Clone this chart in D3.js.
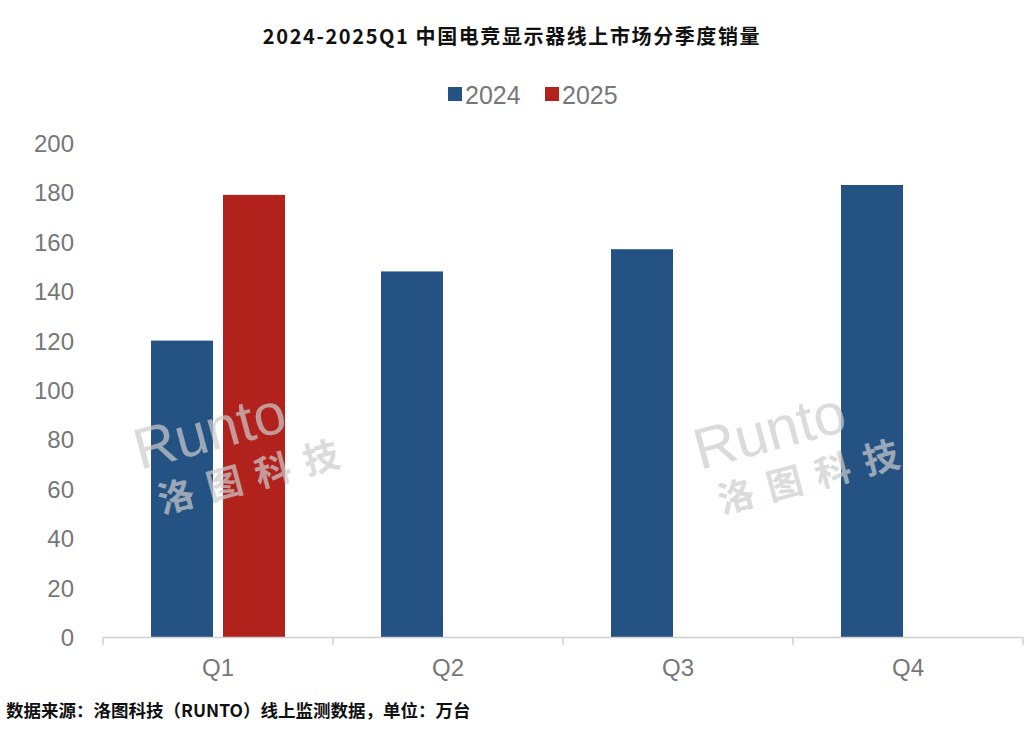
<!DOCTYPE html>
<html><head><meta charset="utf-8">
<script src="https://cdn.jsdelivr.net/npm/d3@7"></script>
<style>body{margin:0;background:#fff;}svg{font-family:"Noto Sans CJK SC","Noto Sans",sans-serif;}</style>
</head><body><svg id="c" width="1032" height="730"></svg>
<script>
const categories=["Q1","Q2","Q3","Q4"];
const seriesNames=["2024","2025"];
const values2024=[120,148,157,183];
const values2025=[179,null,null,null];
const yTicks=[0,20,40,60,80,100,120,140,160,180,200];
const colors=["#245282","#b2221d"];
const title="2024-2025Q1 中国电竞显示器线上市场分季度销量";
const source="数据来源：洛图科技（RUNTO）线上监测数据，单位：万台";

const svg=d3.select("#c");
const x=d3.scaleBand().domain(categories).range([103,1023]);
const y=d3.scaleLinear().domain([0,200]).range([637,143]);
const series=[values2024,values2025];

svg.append("text").attr("x",512).attr("y",44).attr("text-anchor","middle").attr("font-size",20).attr("letter-spacing",1.6).attr("font-weight","bold").attr("fill","#111").text(title);

seriesNames.forEach((n,i)=>{
  const lx=448+i*97;
  svg.append("rect").attr("x",lx).attr("y",87).attr("width",14).attr("height",14).attr("fill",colors[i]);
  svg.append("text").attr("x",lx+17).attr("y",104).attr("font-size",25).attr("fill","#777").attr("font-family","Liberation Sans, Arial, sans-serif").text(n);
});

yTicks.forEach(t=>{
  svg.append("text").attr("x",74).attr("y",y(t)+9).attr("text-anchor","end").attr("font-size",24).attr("fill","#777").attr("font-family","Liberation Sans, Arial, sans-serif").text(t);
});

series.forEach((vals,si)=>{
  vals.forEach((v,ci)=>{
    if(v==null) return;
    const cx=x(categories[ci])+x.bandwidth()/2;
    const bx= si===0? cx-67 : cx+5;
    svg.append("rect").attr("x",bx).attr("y",y(v)).attr("width",62).attr("height",y(0)-y(v)).attr("fill",colors[si]);
  });
});

svg.append("line").attr("x1",103).attr("x2",1023).attr("y1",637.5).attr("y2",637.5).attr("stroke","#d0d0d0").attr("stroke-width",1.5);
categories.forEach((c,i)=>{
  const bx=x(c);
  svg.append("line").attr("x1",bx).attr("x2",bx).attr("y1",637).attr("y2",645).attr("stroke","#d0d0d0").attr("stroke-width",1.5);
  svg.append("text").attr("x",bx+x.bandwidth()/2).attr("y",676).attr("text-anchor","middle").attr("font-size",24).attr("fill","#777").attr("font-family","Liberation Sans, Arial, sans-serif").text(c);
});
svg.append("line").attr("x1",1023).attr("x2",1023).attr("y1",637).attr("y2",645).attr("stroke","#d0d0d0").attr("stroke-width",1.5);

[[140,470],[700,470]].forEach(([wx,wy])=>{
  const g=svg.append("g").attr("transform",`translate(${wx},${wy}) rotate(-15)`).attr("fill","#cccccc").attr("opacity",0.7);
  g.append("text").attr("x",0).attr("y",0).attr("font-size",58).attr("font-family","Liberation Sans, Arial, sans-serif").text("Runto");
  g.append("text").attr("x",10).attr("y",48).attr("font-size",36).attr("font-weight","bold").attr("letter-spacing",14).text("洛图科技");
});

svg.append("text").attr("x",6).attr("y",717).attr("font-size",17.5).attr("font-weight","bold").attr("fill","#111").text(source);
</script></body></html>
